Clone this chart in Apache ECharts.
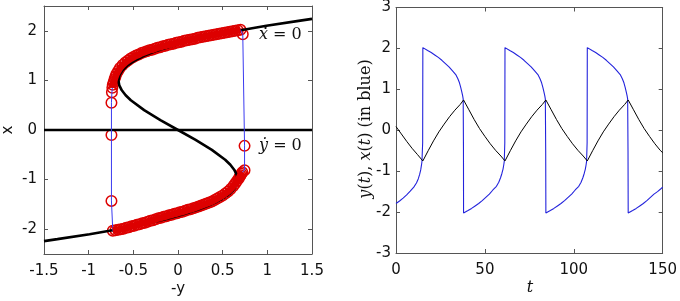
<!DOCTYPE html>
<html>
<head>
<meta charset="utf-8">
<script src="https://cdn.jsdelivr.net/npm/echarts@6/dist/echarts.min.js"></script>
<style>
  html, body { margin: 0; padding: 0; background: #fff; }
  #echarts { width: 680px; height: 301px; }
</style>
</head>
<body>
<div id="echarts"></div>
<script>
// left panel: phase plane, points are [-y, x]
var cubicNullcline = [
  [-1.50, -2.24], [-1.35, -2.2], [-0.99, -2.1], [-0.67, -2.0], [-0.39, -1.9], [-0.14, -1.8],
  [0.06, -1.7], [0.235, -1.6], [0.375, -1.5], [0.485, -1.4], [0.568, -1.3], [0.624, -1.2],
  [0.656, -1.1], [0.667, -1.0], [0.657, -0.9], [0.629, -0.8], [0.586, -0.7], [0.528, -0.6],
  [0.379, -0.4], [0.197, -0.2], [0, 0], [-0.197, 0.2], [-0.379, 0.4], [-0.528, 0.6],
  [-0.586, 0.7], [-0.629, 0.8], [-0.657, 0.9], [-0.667, 1.0], [-0.656, 1.1], [-0.624, 1.2],
  [-0.568, 1.3], [-0.485, 1.4], [-0.375, 1.5], [-0.235, 1.6], [-0.06, 1.7], [0.14, 1.8],
  [0.39, 1.9], [0.67, 2.0], [0.99, 2.1], [1.35, 2.2], [1.50, 2.24]
];
var yNullcline = [[-1.5, 0], [1.5, 0]];

var upperBranch = [
  [0.70, 2.02], [0.67, 2.01], [0.64, 2.00], [0.61, 1.99], [0.58, 1.98], [0.55, 1.97],
  [0.52, 1.96], [0.49, 1.95], [0.46, 1.94], [0.43, 1.93], [0.40, 1.92], [0.37, 1.91],
  [0.34, 1.90], [0.31, 1.89], [0.28, 1.88], [0.25, 1.87], [0.22, 1.86], [0.19, 1.84],
  [0.16, 1.83], [0.13, 1.82], [0.10, 1.81], [0.07, 1.80], [0.04, 1.78], [0.01, 1.77],
  [-0.02, 1.76], [-0.05, 1.74], [-0.08, 1.73], [-0.11, 1.72], [-0.14, 1.70], [-0.17, 1.69],
  [-0.20, 1.67], [-0.23, 1.66], [-0.26, 1.64], [-0.29, 1.62], [-0.32, 1.61], [-0.35, 1.59],
  [-0.38, 1.57], [-0.41, 1.55], [-0.44, 1.52], [-0.47, 1.50], [-0.50, 1.47], [-0.53, 1.44],
  [-0.56, 1.40], [-0.59, 1.36], [-0.62, 1.31], [-0.65, 1.25], [-0.67, 1.19], [-0.69, 1.13],
  [-0.70, 1.08], [-0.71, 1.03], [-0.72, 0.97], [-0.73, 0.91], [-0.735, 0.85]
];
var leftJump = [[-0.74, 0.76], [-0.745, 0.55], [-0.745, -0.10], [-0.745, -1.43]];
var lowerBranch = [
  [-0.73, -2.03], [-0.70, -2.02], [-0.67, -2.01], [-0.64, -2.00], [-0.61, -1.99], [-0.58, -1.97],
  [-0.55, -1.96], [-0.52, -1.94], [-0.49, -1.93], [-0.46, -1.91], [-0.43, -1.90], [-0.40, -1.88],
  [-0.37, -1.87], [-0.34, -1.85], [-0.31, -1.83], [-0.28, -1.82], [-0.25, -1.80], [-0.22, -1.78],
  [-0.19, -1.77], [-0.16, -1.75], [-0.13, -1.74], [-0.10, -1.72], [-0.07, -1.71], [-0.04, -1.69],
  [-0.01, -1.68], [0.02, -1.66], [0.05, -1.65], [0.08, -1.63], [0.11, -1.61], [0.14, -1.60],
  [0.17, -1.58], [0.20, -1.56], [0.23, -1.54], [0.26, -1.52], [0.29, -1.50], [0.32, -1.48],
  [0.35, -1.46], [0.38, -1.44], [0.41, -1.41], [0.44, -1.38], [0.47, -1.35], [0.50, -1.32],
  [0.53, -1.28], [0.56, -1.24], [0.59, -1.19], [0.62, -1.13], [0.64, -1.08], [0.66, -1.03],
  [0.68, -0.98], [0.69, -0.94], [0.70, -0.91], [0.71, -0.88], [0.72, -0.85]
];
var rightJump = [[0.745, -0.81], [0.745, -0.32], [0.725, 1.93]];

// right panel: time series [t, value]
var xOfT = [
  [0, -1.79], [2, -1.73], [4, -1.66], [6, -1.58], [8, -1.49], [10, -1.39], [11.5, -1.29],
  [12.5, -1.19], [13.3, -1.08], [13.9, -0.97], [14.3, -0.86], [14.6, -0.77], [15.0, -0.3], [15.1, 2.02],
  [15.8, 2.00], [17.8, 1.95], [19.8, 1.90], [21.8, 1.84], [23.8, 1.78], [25.8, 1.71], [27.8, 1.63],
  [29.8, 1.55], [31.8, 1.45], [33.6, 1.36], [34.8, 1.26], [35.7, 1.16], [36.4, 1.05], [37.0, 0.94],
  [37.5, 0.84], [37.8, 0.76], [37.95, -0.5], [38.0, -2.02],
  [38.7, -2.00], [40.5, -1.96], [42.5, -1.91], [44.5, -1.85], [46.5, -1.79], [48.5, -1.72],
  [50.5, -1.64], [52.5, -1.56], [54.5, -1.46], [56.5, -1.37], [57.8, -1.27], [58.8, -1.16],
  [59.6, -1.05], [60.2, -0.95], [60.6, -0.85], [60.9, -0.76], [61.2, -0.3], [61.3, 2.02],
  [62.0, 2.00], [64, 1.95], [66, 1.90], [68, 1.84], [70, 1.78], [72, 1.71], [74, 1.63],
  [76, 1.55], [78, 1.45], [79.8, 1.36], [81.0, 1.26], [81.9, 1.16], [82.6, 1.05], [83.2, 0.94],
  [83.7, 0.84], [84.0, 0.76], [84.2, -0.5], [84.3, -2.02],
  [85.0, -2.00], [86.8, -1.96], [88.8, -1.91], [90.8, -1.85], [92.8, -1.79], [94.8, -1.72],
  [96.8, -1.64], [98.8, -1.56], [100.8, -1.46], [102.8, -1.37], [104.1, -1.27], [105.1, -1.16],
  [105.9, -1.05], [106.5, -0.95], [106.9, -0.85], [107.2, -0.76], [107.5, -0.3], [107.6, 2.02],
  [108.3, 2.00], [110.3, 1.95], [112.3, 1.90], [114.3, 1.84], [116.3, 1.78], [118.3, 1.71],
  [120.3, 1.63], [122.3, 1.55], [124.3, 1.45], [126.1, 1.36], [127.3, 1.26], [128.2, 1.16],
  [128.9, 1.05], [129.5, 0.94], [130.0, 0.84], [130.3, 0.76], [130.5, -0.5], [130.6, -2.02],
  [131.3, -2.00], [133.1, -1.96], [135.1, -1.91], [137.1, -1.85], [139.1, -1.79], [141.1, -1.72],
  [143.1, -1.64], [145.1, -1.56], [147.1, -1.50], [149.0, -1.43], [150, -1.39]
];
var yOfT = [
  [0, 0.09], [3, -0.09], [6, -0.27], [9, -0.44], [12, -0.59], [15.1, -0.75],
  [18.1, -0.50], [21.1, -0.26], [24.1, -0.04], [27.1, 0.15], [30.1, 0.33], [33.1, 0.49], [36.1, 0.63], [38.0, 0.74],
  [41, 0.50], [44, 0.26], [47, 0.04], [50, -0.15], [53, -0.33], [56, -0.49], [59, -0.63], [61.3, -0.75],
  [64.3, -0.50], [67.3, -0.26], [70.3, -0.04], [73.3, 0.15], [76.3, 0.33], [79.3, 0.49], [82.3, 0.63], [84.3, 0.74],
  [87.3, 0.50], [90.3, 0.26], [93.3, 0.04], [96.3, -0.15], [99.3, -0.33], [102.3, -0.49], [105.3, -0.63], [107.6, -0.75],
  [110.6, -0.50], [113.6, -0.26], [116.6, -0.04], [119.6, 0.15], [122.6, 0.33], [125.6, 0.49], [128.6, 0.63], [130.6, 0.74],
  [133.6, 0.50], [136.6, 0.26], [139.6, 0.04], [142.6, -0.15], [145.6, -0.33], [148.6, -0.49], [150, -0.55]
];

var leftYTicks = [-2, -1, 0, 1, 2];

var circles = upperBranch.concat(leftJump, lowerBranch, rightJump);
var loop = circles.concat([upperBranch[0]]);

var frame = '#555';
var red = '#dd0000';
var labelFont = { fontFamily: 'DejaVu Sans', fontSize: 15, color: '#111' };

function axis(grid, pos, min, max, extra) {
  var a = {
    gridIndex: grid, type: 'value', position: pos, min: min, max: max,
    axisLine: { show: true, onZero: false, lineStyle: { color: frame, width: 1 } },
    axisTick: { show: true, inside: true, length: 4, lineStyle: { color: frame } },
    axisLabel: Object.assign({ show: pos === 'bottom' || pos === 'left' }, labelFont),
    splitLine: { show: false }
  };
  return echarts.util.merge(a, extra || {}, true);
}

function bandLine(data) {
  return {
    type: 'line', xAxisIndex: 0, yAxisIndex: 0, data: data,
    showSymbol: false, silent: true, lineStyle: { color: red, width: 7 }
  };
}

var myChart = echarts.init(document.getElementById('echarts'));
var option = {
  animation: false,
  grid: [
    { left: 44, top: 6, width: 268, height: 248 },
    { left: 396, top: 6, width: 269, height: 247 }
  ],
  xAxis: [
    axis(0, 'bottom', -1.5, 1.5, { interval: 0.5, axisLabel: { margin: 10 } }),
    axis(0, 'top', -1.5, 1.5, { interval: 0.5 }),
    axis(1, 'bottom', 0, 150, { interval: 50, axisLabel: { margin: 10 } }),
    axis(1, 'top', 0, 150, { interval: 50 })
  ],
  yAxis: [
    axis(0, 'left', -2.5, 2.5, { axisLabel: { customValues: leftYTicks, margin: 7 }, axisTick: { customValues: leftYTicks } }),
    axis(0, 'right', -2.5, 2.5, { axisLabel: { customValues: leftYTicks }, axisTick: { customValues: leftYTicks } }),
    axis(1, 'left', -3, 3, { interval: 1, axisLabel: { margin: 5 } }),
    axis(1, 'right', -3, 3, { interval: 1 })
  ],
  series: [
    {
      type: 'line', xAxisIndex: 0, yAxisIndex: 0, data: cubicNullcline,
      showSymbol: false, silent: true, lineStyle: { color: '#000', width: 2.6 }
    },
    {
      type: 'line', xAxisIndex: 0, yAxisIndex: 0, data: yNullcline,
      showSymbol: false, silent: true, lineStyle: { color: '#000', width: 2.6 }
    },
    {
      type: 'line', xAxisIndex: 0, yAxisIndex: 0, data: loop,
      showSymbol: false, silent: true, lineStyle: { color: '#3a3af0', width: 1 }
    },
    bandLine(upperBranch),
    bandLine(lowerBranch),
    {
      type: 'scatter', xAxisIndex: 0, yAxisIndex: 0, data: circles,
      symbol: 'circle', symbolSize: 10.5, silent: true,
      itemStyle: { color: 'rgba(255,255,255,0)', borderColor: red, borderWidth: 1.5, opacity: 1 }
    },
    {
      type: 'line', xAxisIndex: 2, yAxisIndex: 2, data: xOfT,
      showSymbol: false, silent: true, lineStyle: { color: '#2323dc', width: 1.1 }
    },
    {
      type: 'line', xAxisIndex: 2, yAxisIndex: 2, data: yOfT,
      showSymbol: false, silent: true, lineStyle: { color: '#000', width: 1 }
    }
  ],
  graphic: [
    { type: 'text', x: 8, y: 130, rotation: Math.PI / 2,
      style: { text: 'x', font: '15px "DejaVu Sans"', fill: '#111', align: 'center', verticalAlign: 'middle' } },
    { type: 'text', x: 178, y: 289,
      style: { text: '-y', font: '15px "DejaVu Sans"', fill: '#111', align: 'center', verticalAlign: 'middle' } },
    { type: 'text', x: 259, y: 35,
      style: { text: '{i|x} = 0', font: '16px "DejaVu Serif"', fill: '#111', verticalAlign: 'middle',
        rich: { i: { font: 'italic 16px "DejaVu Serif"', fill: '#111' } } } },
    // dot over the italic x
    { type: 'text', x: 265.5, y: 36, z: 100,
      style: { text: '\u02D9', font: 'bold 16px "DejaVu Serif"', fill: '#111', align: 'center', verticalAlign: 'middle' } },
    { type: 'text', x: 259, y: 146,
      style: { text: '{i|ẏ} = 0', font: '16px "DejaVu Serif"', fill: '#111', verticalAlign: 'middle',
        rich: { i: { font: 'italic 16px "DejaVu Serif"', fill: '#111' } } } },
    { type: 'text', x: 530, y: 288,
      style: { text: 't', font: 'italic 16px "DejaVu Serif"', fill: '#111', align: 'center', verticalAlign: 'middle' } },
    { type: 'text', x: 366, y: 129, rotation: Math.PI / 2,
      style: { text: '{i|y}({i|t}), {i|x}({i|t}) (in blue)', font: '16px "DejaVu Serif"', fill: '#111',
        align: 'center', verticalAlign: 'middle',
        rich: { i: { font: 'italic 16px "DejaVu Serif"', fill: '#111' } } } }
  ]
};
myChart.setOption(option);
</script>
</body>
</html>
